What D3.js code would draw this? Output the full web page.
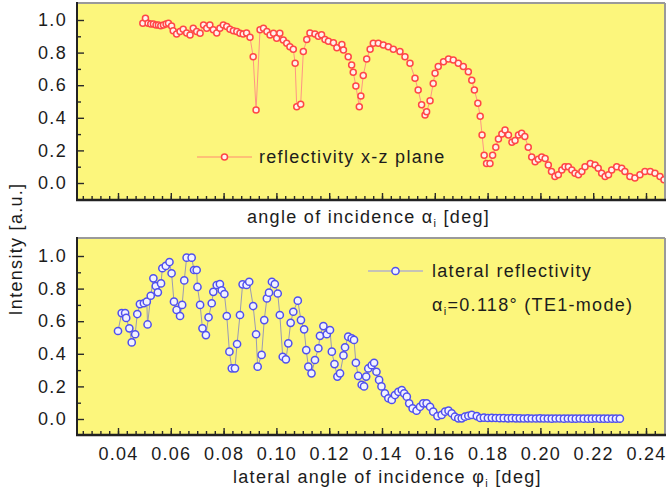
<!DOCTYPE html>
<html>
<head>
<meta charset="utf-8">
<script src="https://cdn.jsdelivr.net/npm/d3@7"></script>
<style>
  html, body { margin: 0; padding: 0; background: #fff; }
  svg { display: block; font-family: "Liberation Sans", Arial, sans-serif; }
  .lbl { font-size: 18px; letter-spacing: 1.3px; fill: #1c1c1c; }
</style>
</head>
<body>
<div id="chart"></div>
<script>
// reflectivity in the x-z plane (upper panel)
const topX = [
  0.0494, 0.0504, 0.0514, 0.0524, 0.0534, 0.0544, 0.0553, 0.0562, 0.0572, 0.0582,
  0.0591, 0.0603, 0.0609, 0.0622, 0.0635, 0.0647, 0.0660, 0.0673, 0.0685, 0.0698,
  0.0711, 0.0724, 0.0736, 0.0748, 0.0761, 0.0774, 0.0786, 0.0799, 0.0812, 0.0824,
  0.0837, 0.0850, 0.0862, 0.0874, 0.0887, 0.0900, 0.0912, 0.0923, 0.0938, 0.0951,
  0.0964, 0.0976, 0.0989, 0.1001, 0.1013, 0.1026, 0.1039, 0.1051, 0.1064, 0.1071,
  0.1077, 0.1092, 0.1102, 0.1115, 0.1127, 0.1146, 0.1159, 0.1171, 0.1184, 0.1197,
  0.1216, 0.1229, 0.1248, 0.1254, 0.1272, 0.1285, 0.1291, 0.1301, 0.1314, 0.1320,
  0.1329, 0.1342, 0.1355, 0.1367, 0.1386, 0.1405, 0.1424, 0.1443, 0.1468, 0.1487,
  0.1506, 0.1525, 0.1537, 0.1550, 0.1563, 0.1569, 0.1582, 0.1594, 0.1601, 0.1613,
  0.1633, 0.1652, 0.1670, 0.1689, 0.1708, 0.1727, 0.1740, 0.1750, 0.1763, 0.1772,
  0.1779, 0.1787, 0.1796, 0.1809, 0.1819, 0.1831, 0.1841, 0.1854, 0.1866, 0.1879,
  0.1892, 0.1904, 0.1917, 0.1929, 0.1941, 0.1954, 0.1967, 0.1980, 0.1992, 0.2005,
  0.2018, 0.2030, 0.2042, 0.2055, 0.2068, 0.2081, 0.2093, 0.2106, 0.2119, 0.2131,
  0.2144, 0.2157, 0.2169, 0.2189, 0.2207, 0.2219, 0.2232, 0.2245, 0.2258, 0.2270,
  0.2289, 0.2308, 0.2320, 0.2339, 0.2358, 0.2377, 0.2396, 0.2416, 0.2434, 0.2453,
  0.2468
];
const topY = [
  0.98, 1.01, 0.98, 0.975, 0.975, 0.97, 0.97, 0.965, 0.97, 0.975,
  0.98, 0.963, 0.934, 0.914, 0.93, 0.943, 0.92, 0.908, 0.95, 0.93,
  0.918, 0.97, 0.95, 0.97, 0.94, 0.92, 0.95, 0.97, 0.96, 0.943,
  0.934, 0.93, 0.918, 0.914, 0.92, 0.894, 0.775, 0.448, 0.94, 0.95,
  0.93, 0.908, 0.918, 0.888, 0.918, 0.877, 0.857, 0.836, 0.82, 0.734,
  0.468, 0.483, 0.806, 0.88, 0.92, 0.914, 0.90, 0.91, 0.88, 0.87,
  0.86, 0.83, 0.85, 0.816, 0.775, 0.724, 0.68, 0.595, 0.468, 0.534,
  0.66, 0.76, 0.82, 0.857, 0.857, 0.847, 0.836, 0.82, 0.806, 0.775,
  0.734, 0.642, 0.57, 0.48, 0.417, 0.437, 0.505, 0.61, 0.673, 0.714,
  0.744, 0.76, 0.755, 0.734, 0.714, 0.683, 0.63, 0.57, 0.49, 0.41,
  0.295, 0.17, 0.12, 0.12, 0.17, 0.22, 0.27, 0.30, 0.325, 0.295,
  0.25, 0.26, 0.295, 0.305, 0.285, 0.22, 0.16, 0.13, 0.145, 0.16,
  0.15, 0.11, 0.07, 0.04, 0.05, 0.08, 0.10, 0.10, 0.08, 0.06,
  0.05, 0.07, 0.10, 0.12, 0.11, 0.09, 0.06, 0.04, 0.05, 0.08,
  0.10, 0.09, 0.07, 0.04, 0.03, 0.05, 0.07, 0.07, 0.06, 0.04,
  0.02
];

// lateral reflectivity (lower panel)
const latX = [
  0.0400, 0.0414, 0.0427, 0.0431, 0.0443, 0.0452, 0.0465, 0.0473, 0.0483, 0.0498,
  0.0509, 0.0512, 0.0524, 0.0534, 0.0543, 0.0551, 0.0563, 0.0568, 0.0581, 0.0595,
  0.0603, 0.0612, 0.0622, 0.0635, 0.0643, 0.0651, 0.0660, 0.0679, 0.0688, 0.0698,
  0.0701, 0.0711, 0.0720, 0.0733, 0.0743, 0.0755, 0.0761, 0.0774, 0.0786, 0.0793,
  0.0803, 0.0812, 0.0822, 0.0831, 0.0843, 0.0851, 0.0862, 0.0872, 0.0887, 0.0897,
  0.0912, 0.0923, 0.0929, 0.0944, 0.0954, 0.0964, 0.0972, 0.0983, 0.0994, 0.1005,
  0.1013, 0.1024, 0.1036, 0.1045, 0.1054, 0.1064, 0.1081, 0.1093, 0.1105, 0.1113,
  0.1121, 0.1133, 0.1146, 0.1159, 0.1165, 0.1178, 0.1191, 0.1203, 0.1210, 0.1220,
  0.1231, 0.1241, 0.1254, 0.1260, 0.1272, 0.1285, 0.1294, 0.1301, 0.1310, 0.1323,
  0.1332, 0.1340, 0.1348, 0.1361, 0.1370, 0.1379, 0.1389, 0.1398, 0.1411, 0.1424,
  0.1437, 0.1449, 0.1462, 0.1475, 0.1484, 0.1494, 0.1503, 0.1516, 0.1531, 0.1544,
  0.1556, 0.1569, 0.1582, 0.1594, 0.1610, 0.1626, 0.1639, 0.1652, 0.1664, 0.1676,
  0.1689, 0.1702, 0.1714, 0.1727, 0.1740, 0.1759, 0.1772, 0.1786, 0.1801, 0.1816,
  0.1831, 0.1846, 0.1861, 0.1877, 0.1892, 0.1907, 0.1922, 0.1937, 0.1952, 0.1967,
  0.1983, 0.1998, 0.2013, 0.2028, 0.2043, 0.2058, 0.2073, 0.2089, 0.2104, 0.2119,
  0.2134, 0.2149, 0.2164, 0.2180, 0.2195, 0.2210, 0.2225, 0.2240, 0.2255, 0.2271,
  0.2286, 0.2301
];
const latY = [
  0.54, 0.65, 0.65, 0.62, 0.556, 0.47, 0.52, 0.644, 0.705, 0.71,
  0.72, 0.58, 0.756, 0.863, 0.816, 0.777, 0.832, 0.925, 0.939, 0.963,
  0.894, 0.72, 0.669, 0.632, 0.70, 0.85, 0.99, 0.99, 0.914, 0.914,
  0.81, 0.70, 0.556, 0.515, 0.624, 0.71, 0.78, 0.822, 0.828, 0.79,
  0.767, 0.632, 0.413, 0.311, 0.311, 0.46, 0.638, 0.826, 0.822, 0.842,
  0.693, 0.52, 0.321, 0.393, 0.607, 0.74, 0.775, 0.842, 0.828, 0.77,
  0.638, 0.382, 0.366, 0.464, 0.59, 0.658, 0.726, 0.607, 0.55, 0.423,
  0.321, 0.28, 0.362, 0.434, 0.51, 0.57, 0.52, 0.546, 0.413, 0.337,
  0.26, 0.28, 0.39, 0.44, 0.505, 0.495, 0.485, 0.345, 0.264, 0.21,
  0.20, 0.26, 0.31, 0.33, 0.345, 0.29, 0.24, 0.20, 0.157, 0.127,
  0.117, 0.147, 0.167, 0.178, 0.157, 0.137, 0.096, 0.065, 0.051, 0.075,
  0.096, 0.096, 0.075, 0.045, 0.018, 0.025, 0.045, 0.051, 0.035, 0.014,
  0.004, 0.004, 0.014, 0.02, 0.025, 0.018, 0.006, 0.008, 0.006, 0.007,
  0.006, 0.005, 0.005, 0.004, 0.005, 0.004, 0.004, 0.003, 0.004, 0.003,
  0.003, 0.004, 0.003, 0.003, 0.002, 0.003, 0.003, 0.002, 0.003, 0.002,
  0.002, 0.003, 0.002, 0.002, 0.002, 0.003, 0.002, 0.002, 0.002, 0.002,
  0.002, 0.002
];

const xTicks = [0.04, 0.06, 0.08, 0.10, 0.12, 0.14, 0.16, 0.18, 0.20, 0.22, 0.24];
const yTicks = [0.0, 0.2, 0.4, 0.6, 0.8, 1.0];

function renderChart(containerSelector) {
  const width = 666, height = 498;
  const left = 77, right = 665;

  const svg = d3.select(containerSelector)
    .append("svg")
    .attr("width", width)
    .attr("height", height);

  const x = d3.scaleLinear().domain([0.04, 0.24]).range([118, 646]);
  const minorX = d3.range(-12, 62).map(i => 0.04 + i * 0.02 / 6)
    .filter(v => x(v) > left + 2 && x(v) < right - 1);
  const minorY = [0.1, 0.3, 0.5, 0.7, 0.9];

  const panels = [
    {
      id: "p1", top: 3, bottom: 200, yRange: [183, 20],
      xs: topX, ys: topY, r: 3,
      line: "#ff9484", stroke: "#ff4646", fill: "#fff2ee", labels: false
    },
    {
      id: "p2", top: 238, bottom: 435, yRange: [419, 256],
      xs: latX, ys: latY, r: 3.6,
      line: "#9a9ab4", stroke: "#5050ee", fill: "#f2f2ff", labels: true
    }
  ];

  panels.forEach(p => {
    const y = d3.scaleLinear().domain([0, 1]).range(p.yRange);
    const g = svg.append("g");

    g.append("rect")
      .attr("x", left).attr("y", p.top)
      .attr("width", right - left).attr("height", p.bottom - p.top)
      .attr("fill", "#fcf67c");

    svg.append("clipPath").attr("id", "clip-" + p.id)
      .append("rect")
      .attr("x", left + 1).attr("y", p.top + 1)
      .attr("width", right - left - 2).attr("height", p.bottom - p.top - 2);

    // ticks (inward)
    const xMajor = g.append("g")
      .attr("transform", `translate(0,${p.bottom})`)
      .call(d3.axisBottom(x).tickValues(xTicks).tickSize(-7).tickPadding(12)
        .tickFormat(p.labels ? d3.format(".2f") : ""));
    g.append("g")
      .attr("transform", `translate(0,${p.bottom})`)
      .call(d3.axisBottom(x).tickValues(minorX).tickSize(-4).tickFormat(""));

    const yMajor = g.append("g")
      .attr("transform", `translate(${left},0)`)
      .call(d3.axisLeft(y).tickValues(yTicks).tickSize(-7).tickPadding(10)
        .tickFormat(d3.format(".1f")));
    g.append("g")
      .attr("transform", `translate(${left},0)`)
      .call(d3.axisLeft(y).tickValues(minorY).tickSize(-4).tickFormat(""));

    g.selectAll(".domain").remove();
    g.selectAll(".tick line").attr("stroke", "#2a2a2a").attr("stroke-width", 1.4);
    g.selectAll(".tick text")
      .attr("class", "lbl")
      .attr("fill", "#1c1c1c")
      .style("font-size", "18px");

    // frame: grey top/right, dark left/bottom
    g.append("line")
      .attr("x1", left).attr("x2", right).attr("y1", p.top).attr("y2", p.top)
      .attr("stroke", "#9a9a9a").attr("stroke-width", 2);
    g.append("line")
      .attr("x1", right).attr("x2", right).attr("y1", p.top).attr("y2", p.bottom)
      .attr("stroke", "#9a9a9a").attr("stroke-width", 2);
    g.append("line")
      .attr("x1", left).attr("x2", left).attr("y1", p.top - 1).attr("y2", p.bottom + 1)
      .attr("stroke", "#222").attr("stroke-width", 2);
    g.append("line")
      .attr("x1", left - 1).attr("x2", right + 1).attr("y1", p.bottom).attr("y2", p.bottom)
      .attr("stroke", "#222").attr("stroke-width", 2.4);

    const pts = p.xs.map((v, i) => [v, p.ys[i]]);
    const plot = g.append("g").attr("clip-path", `url(#clip-${p.id})`);

    plot.append("path")
      .datum(pts)
      .attr("fill", "none")
      .attr("stroke", p.line)
      .attr("stroke-width", 1)
      .attr("d", d3.line().x(d => x(d[0])).y(d => y(d[1])));

    plot.selectAll("circle")
      .data(pts)
      .join("circle")
      .attr("cx", d => x(d[0]))
      .attr("cy", d => y(d[1]))
      .attr("r", p.r)
      .attr("fill", p.fill)
      .attr("stroke", p.stroke)
      .attr("stroke-width", 1.5);
  });

  // legends
  const legends = [
    { x1: 197, x2: 252, y: 157, line: "#ff8a70", stroke: "#ff4646", fill: "#fff2ee", r: 3, tx: 259 },
    { x1: 368, x2: 423, y: 271, line: "#9090f0", stroke: "#5050ee", fill: "#f2f2ff", r: 3.6, tx: 432 }
  ];
  legends.forEach(l => {
    svg.append("line")
      .attr("x1", l.x1).attr("x2", l.x2).attr("y1", l.y).attr("y2", l.y)
      .attr("stroke", l.line).attr("stroke-width", 1.2);
    svg.append("circle")
      .attr("cx", (l.x1 + l.x2) / 2).attr("cy", l.y).attr("r", l.r)
      .attr("fill", l.fill).attr("stroke", l.stroke).attr("stroke-width", 1.5);
  });

  svg.append("text").attr("class", "lbl")
    .attr("x", 259).attr("y", 163)
    .text("reflectivity x-z plane");

  svg.append("text").attr("class", "lbl")
    .attr("x", 432).attr("y", 277)
    .text("lateral reflectivity");

  const mode = svg.append("text").attr("class", "lbl")
    .attr("x", 432).attr("y", 311);
  mode.append("tspan").text("α");
  mode.append("tspan").attr("dy", 4).style("font-size", "11px").text("i");
  mode.append("tspan").attr("dy", -4).text("=0.118° (TE1-mode)");

  // axis titles
  const t1 = svg.append("text").attr("class", "lbl")
    .attr("x", 247).attr("y", 223);
  t1.append("tspan").text("angle of incidence α");
  t1.append("tspan").attr("dy", 4).style("font-size", "11px").text("i");
  t1.append("tspan").attr("dy", -4).text(" [deg]");

  const t2 = svg.append("text").attr("class", "lbl")
    .attr("x", 233).attr("y", 483);
  t2.append("tspan").text("lateral angle of incidence φ");
  t2.append("tspan").attr("dy", 4).style("font-size", "11px").text("i");
  t2.append("tspan").attr("dy", -4).text(" [deg]");

  svg.append("text").attr("class", "lbl")
    .attr("transform", "translate(22,249) rotate(-90)")
    .attr("text-anchor", "middle")
    .text("Intensity [a.u.]");
}

renderChart("#chart");
</script>
</body>
</html>
